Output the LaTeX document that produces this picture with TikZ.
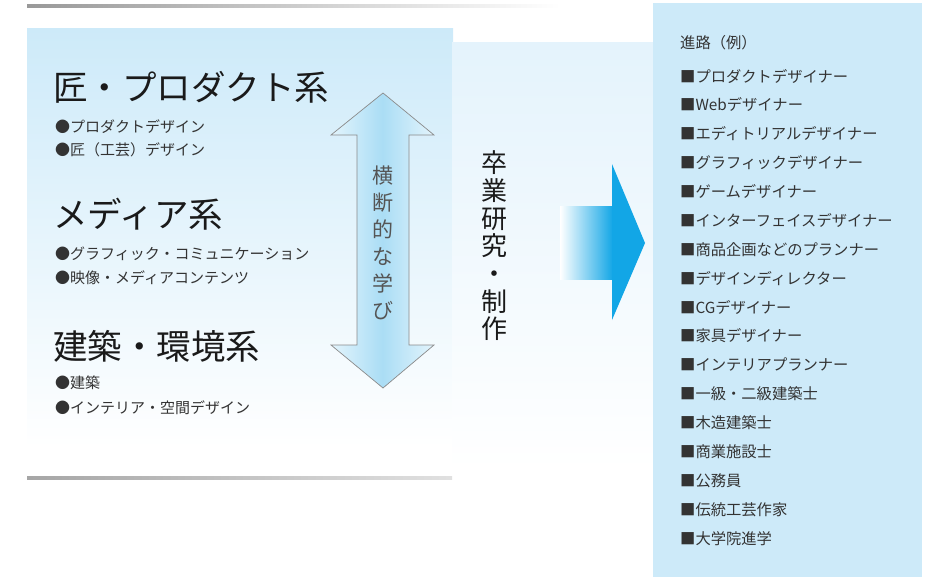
\documentclass[tikz,border=0pt]{standalone}
\usepackage{fontspec}
\newfontfamily\jp{Noto Sans CJK JP}
\definecolor{panelblue}{HTML}{CDEAF9}
\definecolor{panelblue2}{HTML}{E4F3FC}
\definecolor{headc}{HTML}{1A1A1A}
\definecolor{itemc}{HTML}{333333}
\definecolor{vgray}{HTML}{555555}
\definecolor{arrowcyan}{HTML}{12A6E6}
\definecolor{arrowedge}{HTML}{8A8A8A}
\definecolor{shaftblue}{HTML}{AADDF5}
\definecolor{shaftpale}{HTML}{E3F4FC}
\begin{document}
\begin{tikzpicture}[x=1pt,y=-1pt,
  headtxt/.style={anchor=west,inner sep=0pt,font=\jp\fontsize{34.5}{34.5}\selectfont,text=headc},
  itemtxt/.style={anchor=west,inner sep=0pt,font=\jp\fontsize{15}{15}\selectfont,text=itemc},
  careertxt/.style={anchor=west,inner sep=0pt,font=\jp\fontsize{15.3}{15.3}\selectfont,text=itemc},
  verttxt/.style={align=center,inner sep=0pt}]
\useasboundingbox (0,0) rectangle (927,579);
% panels
\shade[top color=panelblue, bottom color=white] (27,28) rectangle (453,448);
\shade[top color=panelblue2, bottom color=white] (452,42) rectangle (654,470);
\fill[panelblue] (653,3) rectangle (922,577);
% gray rules
\shade[left color=black!40, right color=white] (27,4) rectangle (560,7);
\shade[left color=black!35, right color=black!12] (27,476) rectangle (452,479);
% left headings and items
\node[headtxt] (h1) at (53,87) {匠・プロダクト系};
\node[itemtxt] (i11) at (55,127) {●プロダクトデザイン};
\node[itemtxt] (i12) at (55,150) {●匠（工芸）デザイン};
\node[headtxt] (h2) at (53,214) {メディア系};
\node[itemtxt] (i21) at (55,254) {●グラフィック・コミュニケーション};
\node[itemtxt] (i22) at (55,278) {●映像・メディアコンテンツ};
\node[headtxt] (h3) at (53,346) {建築・環境系};
\node[itemtxt] (i31) at (55,383) {●建築};
\node[itemtxt] (i32) at (55,408) {●インテリア・空間デザイン};
% double arrow
\shade[left color=shaftpale, right color=shaftpale, middle color=shaftblue, draw=arrowedge, line width=0.7pt]
  (383,93) -- (434,135) -- (409,135) -- (409,345) -- (434,345) -- (383,388)
  -- (331,345) -- (357,345) -- (357,135) -- (331,135) -- cycle;
\node[verttxt,font=\jp\fontsize{21}{27}\selectfont,text=vgray] (yoko) at (383,243) {横\\断\\的\\な\\学\\び};
% graduation text
\node[verttxt,font=\jp\fontsize{26}{27.7}\selectfont,text=headc] (sotsu) at (494,246) {卒\\業\\研\\究\\・\\制\\作};
% right arrow
\shade[left color=white, right color=arrowcyan] (560,206) rectangle (613,279);
\fill[arrowcyan] (612,164) -- (645,243) -- (612,320) -- cycle;
% careers
\node[careertxt] (c0) at (680,43) {進路（例）};
\foreach \t [count=\i from 0] in {■プロダクトデザイナー,■Webデザイナー,■エディトリアルデザイナー,■グラフィックデザイナー,■ゲームデザイナー,■インターフェイスデザイナー,■商品企画などのプランナー,■デザインディレクター,■CGデザイナー,■家具デザイナー,■インテリアプランナー,■一級・二級建築士,■木造建築士,■商業施設士,■公務員,■伝統工芸作家,■大学院進学}
  \node[careertxt] (c\i x) at (680,{76+28.9*\i}) {\t};
\end{tikzpicture}
\end{document}
